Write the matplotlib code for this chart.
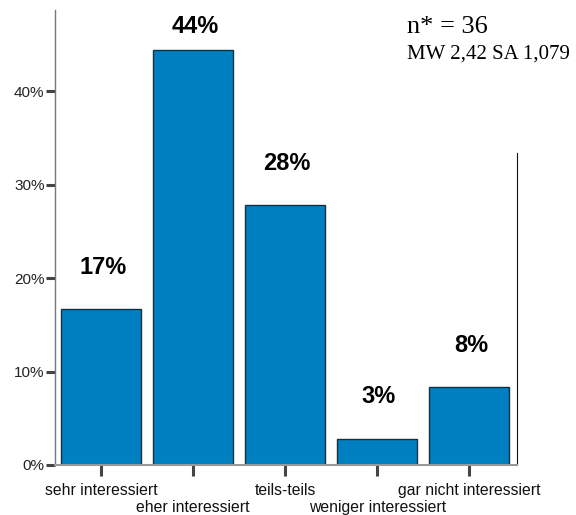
import numpy as np
import matplotlib.pyplot as plt

# Interest distribution (n = 36)
categories = ['sehr interessiert', 'eher interessiert', 'teils-teils',
              'weniger interessiert', 'gar nicht interessiert']
percent = [16.67, 44.44, 27.78, 2.78, 8.33]
bar_labels = ['17%', '44%', '28%', '3%', '8%']
yticks = [0, 10, 20, 30, 40]
ytick_labels = ['0%', '10%', '20%', '30%', '40%']

plt.rcParams['font.family'] = ['Liberation Sans', 'DejaVu Sans']

fig = plt.figure(figsize=(5.76, 5.15), dpi=100)
ax = fig.add_axes([0.0955, 0.0971, 0.8021, 0.8835])

x = np.arange(len(categories))
ax.bar(x, percent, width=0.87, color='#0080c0', edgecolor='#2a2a2a', linewidth=1.0)

top = 48.7
for xi, v, lab in zip(x, percent, bar_labels):
    ax.text(xi + 0.02, min(v + 4.5, 46.9), lab, ha='center', va='center',
            fontsize=17, fontweight='bold', color='black')

ax.set_xlim(-0.5, 4.52)
ax.set_ylim(0, top)

ax.set_yticks(yticks)
ax.set_yticklabels(ytick_labels, fontsize=11, color='#222222')
ax.tick_params(axis='y', direction='out', length=6.5, width=2.2, color='#444444', pad=1)

ax.set_xticks(x)
ax.set_xticklabels([])
ax.tick_params(axis='x', direction='out', length=8, width=2.2, color='#444444')
for i, name in enumerate(categories):
    ypos = -0.055 if i % 2 == 0 else -0.094
    ax.text(i, top * ypos, name, ha='center', va='center', fontsize=11.3,
            color='#111111', clip_on=False)

ax.spines['top'].set_visible(False)
ax.spines['left'].set_color('#777777')
ax.spines['left'].set_linewidth(1.0)
ax.spines['bottom'].set_color('#999999')
ax.spines['bottom'].set_linewidth(1.5)
ax.spines['right'].set_color('#111111')
ax.spines['right'].set_linewidth(0.8)
ax.spines['right'].set_bounds(0, 33.4)

fig.text(0.707, 0.935, 'n* = 36', family='Liberation Serif', fontsize=19)
fig.text(0.707, 0.886, 'MW 2,42 SA 1,079', family='Liberation Serif', fontsize=15)

fig.savefig('out.png', dpi=100)
